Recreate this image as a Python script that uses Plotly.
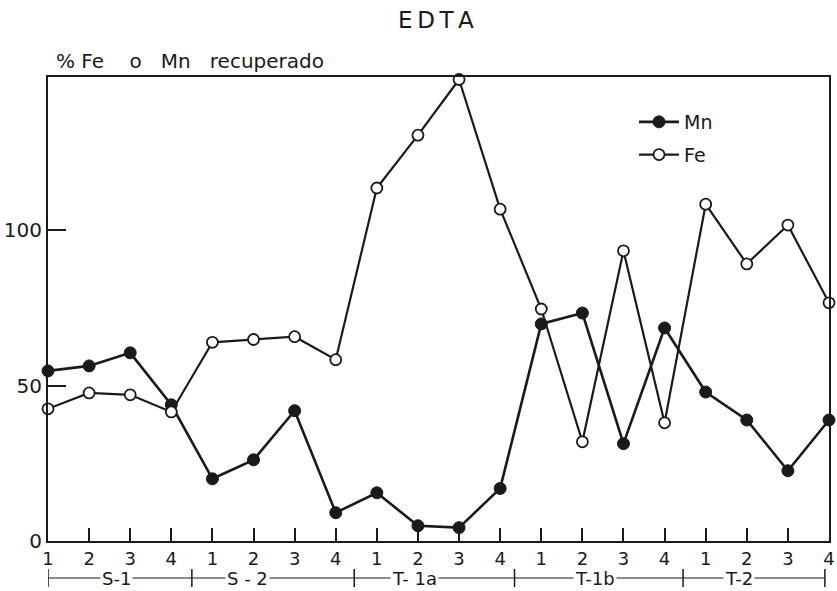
import plotly.graph_objects as go

# ---- data ----
sample_labels = ["1", "2", "3", "4"] * 5
groups = ["S-1", "S - 2", "T- 1a", "T-1b", "T-2"]
mn_values = [54.7, 56.3, 60.5, 43.8, 20.0, 26.1, 41.9, 9.1, 15.5, 4.9,
             4.3, 16.9, 69.8, 73.3, 31.3, 68.5, 47.9, 38.9, 22.6, 38.9]
fe_values = [42.5, 47.6, 47.0, 41.5, 63.9, 64.8, 65.7, 58.3, 113.5, 130.5,
             148.4, 106.7, 74.6, 31.9, 93.3, 38.0, 108.3, 89.1, 101.6, 76.6]
y_ticks = [0, 50, 100]

x = list(range(len(sample_labels)))
FONT = "DejaVu Sans"
INK = "#1a1a1a"
NB = "\u00a0"

# plot area spans page x 48..829, y 77..541
PX0, PW, PY0, PH = 48, 781, 77, 464


def px(page_x):
    return (page_x - PX0) / PW


def py(page_y):
    return 1 + (PY0 - page_y) / PH


fig = go.Figure()
fig.add_trace(go.Scatter(
    x=x, y=mn_values, name="Mn", mode="lines+markers",
    line=dict(color=INK, width=2.6),
    marker=dict(symbol="circle", size=12, color=INK, line=dict(color=INK, width=1)),
    cliponaxis=False, legendgroup="a"))
fig.add_trace(go.Scatter(
    x=x, y=fe_values, name="Fe", mode="lines+markers",
    line=dict(color=INK, width=2.2),
    marker=dict(symbol="circle", size=11, color="white", line=dict(color=INK, width=1.8)),
    cliponaxis=False, legendgroup="b"))

# group brackets under the axis
bar_pos = [0, 3.5, 7.45, 11.35, 15.45, 18.9]
label_pos = [1.67, 4.85, 8.92, 13.3, 16.8]
yl = py(578)
shapes = [dict(type="line", xref="x", yref="paper", x0=bar_pos[0], x1=bar_pos[-1],
               y0=yl, y1=yl, line=dict(color=INK, width=1.2))]
for b in bar_pos:
    shapes.append(dict(type="line", xref="x", yref="paper", x0=b, x1=b,
                       y0=py(569), y1=py(587), line=dict(color=INK, width=1.5)))
annotations = []
for g, p in zip(groups, label_pos):
    annotations.append(dict(text=g, x=p, y=yl, xref="x", yref="paper", showarrow=False,
                            font=dict(family=FONT, size=18, color=INK),
                            bgcolor="white", borderpad=1, xanchor="center", yanchor="middle"))
annotations.append(dict(text="E\u2009D\u2009T\u2009A", xref="paper", yref="paper", x=px(436),
                        y=py(20), showarrow=False, xanchor="center",
                        yanchor="middle", font=dict(family=FONT, size=23, color=INK)))
annotations.append(dict(text="%" + NB + "Fe" + NB * 4 + "o" + NB * 3 + "Mn" + NB * 3 + "recuperado",
                        xref="paper", yref="paper",
                        x=px(54), y=py(61), showarrow=False,
                        xanchor="left", yanchor="middle",
                        font=dict(family=FONT, size=20, color=INK)))

fig.update_layout(
    width=837, height=591,
    margin=dict(l=48, r=8, t=77, b=50, autoexpand=False),
    paper_bgcolor="white", plot_bgcolor="white",
    font=dict(family=FONT, size=19, color=INK),
    showlegend=True,
    legend=dict(x=px(634), y=py(103), xanchor="left", yanchor="top",
                bgcolor="rgba(0,0,0,0)", font=dict(family=FONT, size=19, color=INK),
                tracegroupgap=5, itemwidth=40),
    shapes=shapes, annotations=annotations,
    xaxis=dict(range=[0, 19], tickvals=x, ticktext=sample_labels, ticks="inside",
               ticklen=13, tickwidth=1.5, tickcolor=INK, showgrid=False, zeroline=False,
               showline=True, mirror=True, linecolor=INK, linewidth=2, automargin=False,
               ticklabeloverflow="allow",
               tickfont=dict(family=FONT, size=18, color=INK)),
    yaxis=dict(range=[0, 149.2], tickvals=y_ticks, ticks="inside", ticklen=18,
               tickwidth=1.5, tickcolor=INK, showgrid=False, zeroline=False,
               showline=True, mirror=True, linecolor=INK, linewidth=2, automargin=False,
               tickfont=dict(family=FONT, size=20, color=INK)),
)

fig.write_html(
    "out.html",
    config={"displayModeBar": False},
    post_script="document.body.style.margin='0';document.body.style.overflow='hidden';",
)
